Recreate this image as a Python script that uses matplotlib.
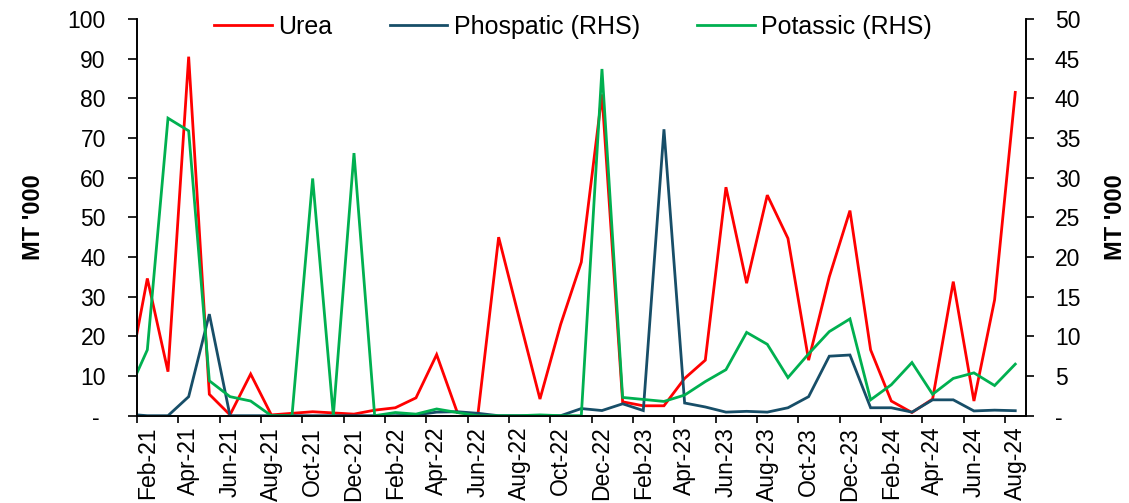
import numpy as np
import matplotlib
matplotlib.use("Agg")
import matplotlib.pyplot as plt
from matplotlib.lines import Line2D

plt.rcParams["font.family"] = ["Liberation Sans", "DejaVu Sans"]

# monthly series, Jan-21 .. Aug-24 (Jan-21 sits just outside the left edge)
months = ["Jan-21", "Feb-21", "Mar-21", "Apr-21", "May-21", "Jun-21", "Jul-21", "Aug-21",
          "Sep-21", "Oct-21", "Nov-21", "Dec-21", "Jan-22", "Feb-22", "Mar-22", "Apr-22",
          "May-22", "Jun-22", "Jul-22", "Aug-22", "Sep-22", "Oct-22", "Nov-22", "Dec-22",
          "Jan-23", "Feb-23", "Mar-23", "Apr-23", "May-23", "Jun-23", "Jul-23", "Aug-23",
          "Sep-23", "Oct-23", "Nov-23", "Dec-23", "Jan-24", "Feb-24", "Mar-24", "Apr-24",
          "May-24", "Jun-24", "Jul-24", "Aug-24"]

urea = [7.0, 34.6, 11.1, 90.5, 5.4, 0.2, 10.5, 0.2, 0.6, 1.0, 0.7, 0.4, 1.4, 2.0,
        4.5, 15.4, 0.8, 0.4, 45.0, 24.5, 4.2, 23.0, 38.7, 81.0, 3.5, 2.5, 2.5, 9.4,
        14.0, 57.6, 33.4, 55.6, 44.7, 14.0, 35.0, 51.7, 16.6, 3.7, 0.8, 4.2, 33.8,
        3.7, 29.2, 81.5]

phospatic = [0.2, 0.0, 0.0, 2.4, 12.8, 0.0, 0.0, 0.0, 0.0, 0.0, 0.0, 0.0, 0.0, 0.0,
             0.1, 0.45, 0.5, 0.3, 0.0, 0.0, 0.0, 0.0, 0.9, 0.65, 1.5, 0.65, 36.1, 1.6,
             1.1, 0.45, 0.55, 0.45, 1.0, 2.4, 7.5, 7.65, 1.0, 1.0, 0.45, 2.0, 2.0,
             0.6, 0.7, 0.63]

potassic = [2.5, 8.3, 37.5, 35.9, 4.4, 2.4, 1.85, 0.0, 0.0, 29.9, 0.0, 33.1, 0.0, 0.4,
            0.2, 0.85, 0.4, 0.0, 0.0, 0.0, 0.1, 0.0, 0.0, 43.7, 2.3, 2.05, 1.8, 2.6,
            4.3, 5.8, 10.5, 9.0, 4.8, 7.8, 10.6, 12.2, 2.0, 3.9, 6.7, 2.7, 4.7,
            5.4, 3.8, 6.5]

left_ticks = [0, 10, 20, 30, 40, 50, 60, 70, 80, 90, 100]
left_labels = ["- ", "10", "20", "30", "40", "50", "60", "70", "80", "90", "100"]
right_ticks = [0, 5, 10, 15, 20, 25, 30, 35, 40, 45, 50]
right_labels = ["-", "5", "10", "15", "20", "25", "30", "35", "40", "45", "50"]

RED = "#FF0000"
BLUE = "#174E68"
GREEN = "#00B050"
FS = 16.5
LW = 2.0

x = np.arange(len(months)) - 1

fig = plt.figure(figsize=(11.29, 5.03), dpi=100)
ax = fig.add_axes([137 / 1129, 1 - 415.7 / 503, (1025.6 - 137) / 1129, (415.7 - 19) / 503])
ax2 = ax.twinx()

ax.plot(x, urea, color=RED, lw=LW, solid_joinstyle="miter")
ax2.plot(x, phospatic, color=BLUE, lw=LW, solid_joinstyle="miter")
ax2.plot(x, potassic, color=GREEN, lw=LW, solid_joinstyle="miter")

ax.set_xlim(-0.5, len(months) - 1.5)
ax.set_ylim(0, 100)
ax2.set_ylim(0, 50)

ax.set_yticks(left_ticks)
ax.set_yticklabels(left_labels)
ax2.set_yticks(right_ticks)
ax2.set_yticklabels(right_labels)

label_pos = x[1::2]
ax.set_xticks(label_pos)
ax.set_xticklabels(months[1::2], rotation=90)
ax.set_xticks(label_pos - 0.5, minor=True)
ax.tick_params(axis="x", which="major", length=0, pad=8, labelsize=FS)
ax.tick_params(axis="x", which="minor", length=5, width=1.2, direction="out")
ax.tick_params(axis="y", length=6.5, width=1.2, pad=16, labelsize=FS)
ax2.tick_params(axis="y", length=6, width=1.2, pad=15, labelsize=FS)

for a in (ax, ax2):
    a.spines["top"].set_visible(False)
    for s in ("left", "right", "bottom"):
        a.spines[s].set_linewidth(1.2)
        a.spines[s].set_color("black")

fig.text(33 / 1129, 1 - 217 / 503, "MT '000", rotation=90, ha="center", va="center",
         fontsize=17, fontweight="bold")
fig.text(1115 / 1129, 1 - 217 / 503, "MT '000", rotation=90, ha="center", va="center",
         fontsize=17, fontweight="bold")

handles = [Line2D([], [], color=RED, lw=LW),
           Line2D([], [], color=BLUE, lw=LW),
           Line2D([], [], color=GREEN, lw=LW)]
fig.legend(handles, ["Urea", "Phospatic (RHS)", "Potassic (RHS)"], loc="center",
           bbox_to_anchor=(573 / 1129, 1 - 27 / 503), ncol=3, frameon=False,
           fontsize=18, handlelength=2.3, handletextpad=0.25, columnspacing=2.3)

fig.savefig("out.png", dpi=100)
